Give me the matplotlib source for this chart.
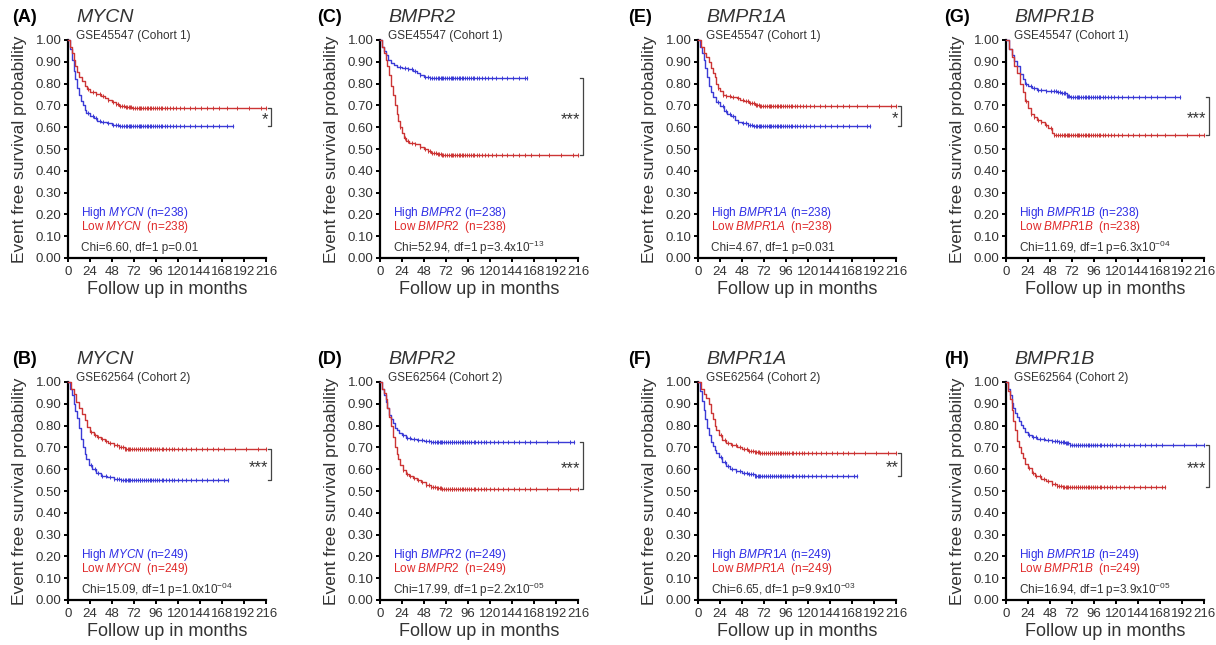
import numpy as np
import matplotlib
matplotlib.use("Agg")
import matplotlib.pyplot as plt

plt.rcParams['font.family'] = ['Liberation Sans', 'DejaVu Sans']
plt.rcParams['mathtext.fontset'] = 'custom'
plt.rcParams['mathtext.rm'] = 'Liberation Sans'
plt.rcParams['mathtext.it'] = 'Liberation Sans:italic'

# ---- data: (month, survival) step points, last point = last follow up
mycn_c1_high = [(0, 1), (2, .96), (4, .91), (6, .86), (8, .82), (10, .78), (12, .75), (14, .72), (16, .70),
                (18, .68), (20, .665), (24, .65), (28, .64), (32, .63), (36, .625), (42, .618), (48, .612),
                (56, .607), (64, .604), (180, .604)]
mycn_c1_low = [(0, 1), (2, .97), (4, .94), (6, .91), (8, .88), (10, .855), (12, .83), (15, .81), (18, .79),
               (21, .775), (24, .763), (30, .752), (36, .745), (40, .735), (44, .725), (48, .717), (52, .705),
               (56, .698), (62, .692), (70, .689), (216, .689)]
bmpr2_c1_high = [(0, 1), (2, .97), (4, .95), (6, .93), (9, .91), (12, .895), (15, .885), (18, .877), (24, .87),
                 (30, .865), (36, .858), (40, .85), (44, .84), (48, .832), (54, .827), (60, .824), (160, .824)]
bmpr2_c1_low = [(0, 1), (2, .97), (4, .94), (6, .91), (8, .88), (10, .84), (12, .79), (14, .75), (16, .70),
                (18, .66), (20, .63), (22, .60), (24, .575), (26, .55), (28, .535), (32, .527), (38, .522),
                (44, .51), (48, .50), (52, .49), (56, .482), (62, .476), (68, .473), (216, .473)]
bmpr1a_c1_high = [(0, 1), (2, .97), (4, .94), (6, .91), (8, .87), (10, .83), (12, .79), (14, .76), (16, .74),
                  (20, .715), (24, .695), (28, .675), (32, .66), (36, .65), (40, .635), (44, .625), (48, .617),
                  (54, .61), (60, .607), (188, .607)]
bmpr1a_c1_low = [(0, 1), (3, .97), (6, .94), (9, .92), (12, .90), (14, .87), (16, .85), (18, .83), (20, .80),
                 (22, .78), (24, .765), (27, .75), (30, .742), (36, .738), (42, .735), (46, .725), (50, .718),
                 (56, .71), (62, .702), (68, .695), (216, .695)]
bmpr1b_c1_high = [(0, 1), (3, .96), (6, .93), (9, .905), (12, .88), (15, .845), (18, .82), (21, .80), (24, .787),
                  (28, .778), (34, .772), (44, .768), (56, .763), (60, .755), (66, .745), (70, .74), (190, .74)]
bmpr1b_c1_low = [(0, 1), (3, .96), (6, .92), (9, .88), (12, .85), (15, .80), (18, .76), (21, .72), (24, .69),
                 (27, .66), (30, .645), (34, .635), (38, .625), (42, .61), (46, .595), (50, .575), (52, .565),
                 (216, .565)]

mycn_c2_high = [(0, 1), (2, .97), (4, .94), (6, .90), (8, .865), (10, .835), (12, .79), (14, .74), (16, .70),
                (18, .67), (20, .645), (23, .62), (26, .60), (30, .583), (36, .57), (42, .563), (50, .556),
                (58, .55), (175, .55)]
mycn_c2_low = [(0, 1), (3, .97), (6, .945), (9, .91), (12, .88), (15, .855), (18, .825), (21, .795), (24, .77),
               (28, .755), (32, .746), (36, .738), (40, .73), (44, .722), (50, .712), (56, .70), (62, .692),
               (216, .692)]
bmpr2_c2_high = [(0, 1), (2, .97), (4, .94), (6, .91), (8, .88), (10, .85), (12, .83), (14, .81), (16, .79),
                 (18, .778), (21, .765), (24, .755), (28, .745), (34, .74), (40, .735), (48, .73), (56, .726),
                 (62, .723), (212, .723)]
bmpr2_c2_low = [(0, 1), (2, .97), (4, .95), (6, .92), (8, .88), (10, .84), (12, .80), (14, .75), (16, .70),
                (18, .67), (20, .645), (22, .62), (25, .595), (28, .58), (32, .568), (36, .558), (40, .55),
                (45, .54), (50, .528), (56, .52), (62, .513), (68, .51), (216, .51)]
bmpr1a_c2_high = [(0, 1), (2, .96), (4, .915), (6, .87), (8, .83), (10, .79), (12, .755), (14, .725), (16, .705),
                  (18, .69), (20, .675), (23, .655), (26, .635), (30, .615), (35, .60), (41, .592), (48, .583),
                  (55, .576), (62, .569), (173, .569)]
bmpr1a_c2_low = [(0, 1), (3, .97), (6, .945), (9, .925), (12, .90), (14, .86), (16, .83), (18, .80), (20, .78),
                 (23, .755), (26, .735), (30, .72), (36, .71), (42, .70), (48, .692), (55, .685), (62, .678),
                 (68, .674), (216, .674)]
bmpr1b_c2_high = [(0, 1), (2, .97), (4, .94), (6, .905), (8, .88), (10, .86), (12, .84), (14, .822), (16, .805),
                  (18, .79), (21, .772), (24, .758), (28, .748), (34, .74), (42, .735), (50, .73), (58, .725),
                  (64, .718), (70, .711), (216, .711)]
bmpr1b_c2_low = [(0, 1), (2, .96), (4, .92), (6, .87), (8, .82), (10, .78), (12, .73), (14, .70), (16, .675),
                 (18, .65), (21, .625), (24, .605), (28, .582), (32, .57), (38, .556), (44, .545), (50, .532),
                 (56, .525), (62, .52), (173, .52)]

# censored follow-up times (tick marks)
cohort1_censor = [22, 27, 31, 35, 38, 44, 49, 52, 55, 57, 59, 61, 63, 64, 66, 68, 69, 71, 73, 75, 77, 78, 80,
                  82, 84, 86, 87, 89, 91, 93, 95, 97, 99, 101, 103, 106, 108, 111, 114, 118, 122, 127, 133,
                  138, 145, 152, 158, 165, 173, 184, 197, 210]
cohort2_censor = [25, 29, 33, 37, 41, 46, 50, 53, 56, 58, 60, 62, 63, 65, 67, 68, 70, 72, 74, 76, 78, 79, 81,
                  83, 85, 87, 89, 91, 93, 95, 97, 99, 102, 104, 107, 110, 113, 116, 120, 124, 129, 134, 140,
                  146, 152, 158, 164, 170, 182, 194, 207]

panel_letters = ['(A)', '(C)', '(E)', '(G)', '(B)', '(D)', '(F)', '(H)']
genes = ['MYCN', 'BMPR2', 'BMPR1A', 'BMPR1B'] * 2
cohorts = ['GSE45547 (Cohort 1)'] * 4 + ['GSE62564 (Cohort 2)'] * 4
n_per_group = [238] * 4 + [249] * 4
high_curves = [mycn_c1_high, bmpr2_c1_high, bmpr1a_c1_high, bmpr1b_c1_high,
               mycn_c2_high, bmpr2_c2_high, bmpr1a_c2_high, bmpr1b_c2_high]
low_curves = [mycn_c1_low, bmpr2_c1_low, bmpr1a_c1_low, bmpr1b_c1_low,
              mycn_c2_low, bmpr2_c2_low, bmpr1a_c2_low, bmpr1b_c2_low]
stats = ['Chi=6.60, df=1 p=0.01', 'Chi=52.94, df=1 p=3.4x10$^{-13}$',
         'Chi=4.67, df=1 p=0.031', 'Chi=11.69, df=1 p=6.3x10$^{-04}$',
         'Chi=15.09, df=1 p=1.0x10$^{-04}$', 'Chi=17.99, df=1 p=2.2x10$^{-05}$',
         'Chi=6.65, df=1 p=9.9x10$^{-03}$', 'Chi=16.94, df=1 p=3.9x10$^{-05}$']
stars = ['*', '***', '*', '***', '***', '***', '**', '***']

x_ticks = [0, 24, 48, 72, 96, 120, 144, 168, 192, 216]
y_ticks = [0.0, 0.1, 0.2, 0.3, 0.4, 0.5, 0.6, 0.7, 0.8, 0.9, 1.0]

BLUE_LINE = '#3b3bd6'
RED_LINE = '#cc3535'
BLUE_TXT = '#2f2fe6'
RED_TXT = '#e02a2a'
GREY = '#333333'

W, H = 1216, 645
col_left = [68, 380, 698, 1006]      # pixel x of y-axis spine per column
label_dx = [-56, -63, -70, -62]      # panel letter offset from spine
row_top = [40, 382]                  # pixel y of the 1.00 level
AX_W, AX_H = 198, 218


def draw_curve(ax, pts, censor, line_c):
    t = np.array([p[0] for p in pts], dtype=float)
    s = np.array([p[1] for p in pts], dtype=float)
    ax.plot(t, s, drawstyle='steps-post', color=line_c, lw=1.0, clip_on=False, zorder=3)
    ct = np.array([c for c in censor if c < t[-1]] + [t[-1]], dtype=float)
    idx = np.searchsorted(t, ct, side='right') - 1
    ax.plot(ct, s[idx], ls='none', marker='|', ms=3, mew=0.7, color=line_c, clip_on=False, zorder=3)
    return s[-1]


def draw_panel(i):
    r, c = divmod(i, 4)
    left = col_left[c] / W
    bottom = 1 - (row_top[r] + AX_H) / H
    ax = fig.add_axes([left, bottom, AX_W / W, AX_H / H])

    censor = cohort1_censor if r == 0 else cohort2_censor
    hi_end = draw_curve(ax, high_curves[i], censor, BLUE_LINE)
    lo_end = draw_curve(ax, low_curves[i], censor, RED_LINE)

    ax.set_xlim(0, 216)
    ax.set_ylim(0, 1)
    ax.set_xticks(x_ticks)
    ax.set_yticks(y_ticks)
    ax.set_yticklabels(['%.2f' % v for v in y_ticks])
    for sp in ['top', 'right']:
        ax.spines[sp].set_visible(False)
    for sp in ['left', 'bottom']:
        ax.spines[sp].set_linewidth(1.6)
    ax.tick_params(direction='out', length=3, width=1.4, labelsize=9.5, labelcolor=GREY, pad=1.5)
    ax.tick_params(axis='x', pad=3)

    ax.set_ylabel('Event free survival probability', fontsize=12.5, color=GREY)
    ax.yaxis.set_label_coords(-0.205, 0.5)
    ax.set_xlabel('Follow up in months', fontsize=13, color=GREY)
    ax.xaxis.set_label_coords(0.5, -0.105)

    # headers
    ax.text(label_dx[c] / AX_W, 1.105, panel_letters[i], transform=ax.transAxes, fontsize=13,
            fontweight='bold', va='center', ha='left', color='black')
    ax.text(8 / AX_W, 1.105, genes[i], transform=ax.transAxes, fontsize=14, style='italic',
            va='center', ha='left', color=GREY)
    ax.text(8 / AX_W, 1.018, cohorts[i], transform=ax.transAxes, fontsize=8.5,
            va='center', ha='left', color=GREY)

    # legend-like text
    g = genes[i]
    ax.text(14, 0.205, r'High $\mathit{%s}$ (n=%d)' % (g, n_per_group[i]), fontsize=8.5,
            color=BLUE_TXT, va='center', ha='left')
    ax.text(14, 0.14, r'Low $\mathit{%s}$  (n=%d)' % (g, n_per_group[i]), fontsize=8.5,
            color=RED_TXT, va='center', ha='left')
    ax.text(14, 0.048, stats[i], fontsize=8.5, color=GREY, va='center', ha='left')

    # significance bracket
    bx = 221
    top, bot = max(hi_end, lo_end), min(hi_end, lo_end)
    ax.plot([bx - 3, bx, bx, bx - 3], [top, top, bot, bot], color='#444444', lw=0.9, clip_on=False)
    ax.text(bx - 2.5, (top + bot) / 2 - 0.012, stars[i], fontsize=12, color=GREY,
            ha='right', va='center')


fig = plt.figure(figsize=(W / 100, H / 100), dpi=100, facecolor='white')
for i in range(8):
    draw_panel(i)

fig.savefig('out.png', dpi=100, facecolor='white')
